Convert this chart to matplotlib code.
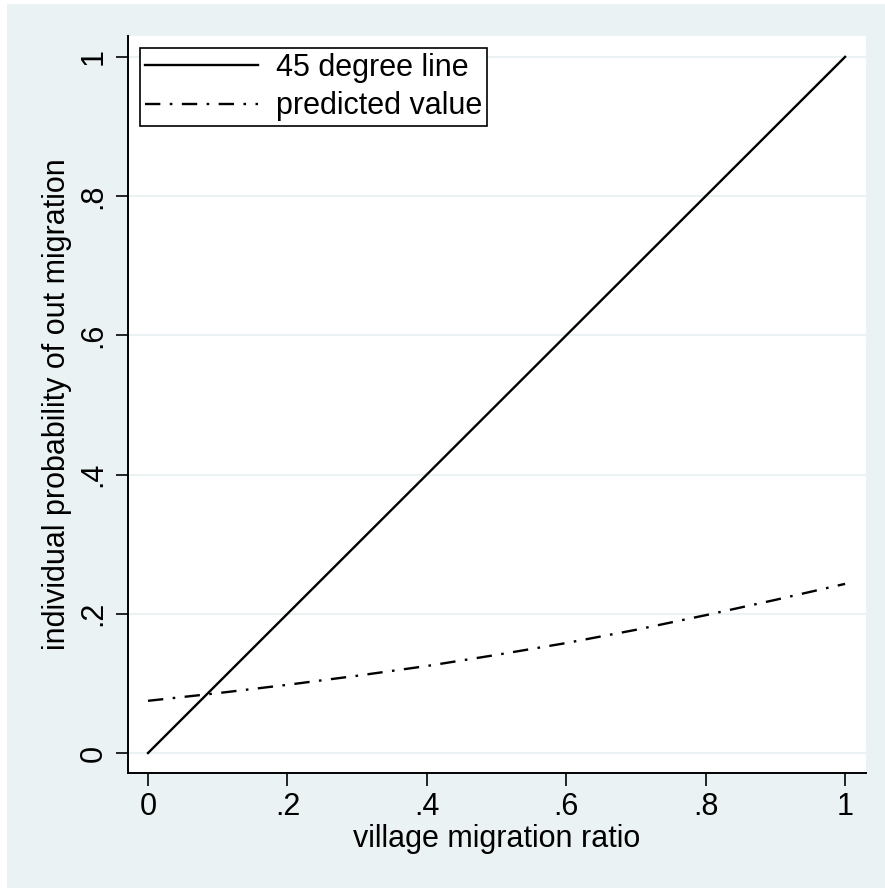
import matplotlib.pyplot as plt
from matplotlib.patches import Rectangle

plt.rcParams['font.family'] = ['Liberation Sans', 'DejaVu Sans']

# village migration ratio
ratio = [0, .1, .2, .3, .4, .5, .6, .7, .8, .9, 1]
# 45 degree reference line
line45 = [0, 1]
# predicted individual probability of out migration
predicted = [.075, .086, .098, .111, .125, .141, .158, .177, .198, .220, .243]

ticks = [0, .2, .4, .6, .8, 1]
ticklabels = ['0', '.2', '.4', '.6', '.8', '1']

bg = '#eaf2f3'
fs = 22

fig = plt.figure(figsize=(8.85, 8.88), dpi=100, facecolor='white')
fig.patches.append(Rectangle((7/885, 0), 1, 1 - 4/888, transform=fig.transFigure,
                             facecolor=bg, edgecolor='none', zorder=-10))

ax = fig.add_axes([128/885, 115/888, 738/885, 737/888])
ax.set_facecolor('white')

ax.plot(line45, line45, color='black', lw=1.7, label='45 degree line')
ax.plot(ratio, predicted, color='black', lw=1.7, linestyle=(0, (6.5, 4, 1.1, 4)),
        label='predicted value')

ax.set_xlim(-0.0287, 1.03)
ax.set_ylim(-0.0287, 1.03)
ax.set_xticks(ticks)
ax.set_xticklabels(ticklabels)
ax.set_yticks(ticks)
ax.set_yticklabels(ticklabels, rotation=90, va='center')
ax.tick_params(length=9, width=1.2, labelsize=fs, pad=5)
ax.grid(axis='y', color=bg, lw=1.5)
ax.set_axisbelow(True)

for s in ['top', 'right']:
    ax.spines[s].set_visible(False)
for s in ['left', 'bottom']:
    ax.spines[s].set_linewidth(1.4)

ax.set_xlabel('village migration ratio', fontsize=fs, labelpad=1)
ax.set_ylabel('individual probability of out migration', fontsize=fs, labelpad=5)

leg = ax.legend(loc='upper left', fontsize=fs, handlelength=3.7, handletextpad=0.6,
                labelspacing=0.28, borderpad=0.15, borderaxespad=0.4, fancybox=False,
                framealpha=1)
leg.get_frame().set_edgecolor('black')
leg.get_frame().set_linewidth(1.2)

plt.savefig('out.png', dpi=100)
